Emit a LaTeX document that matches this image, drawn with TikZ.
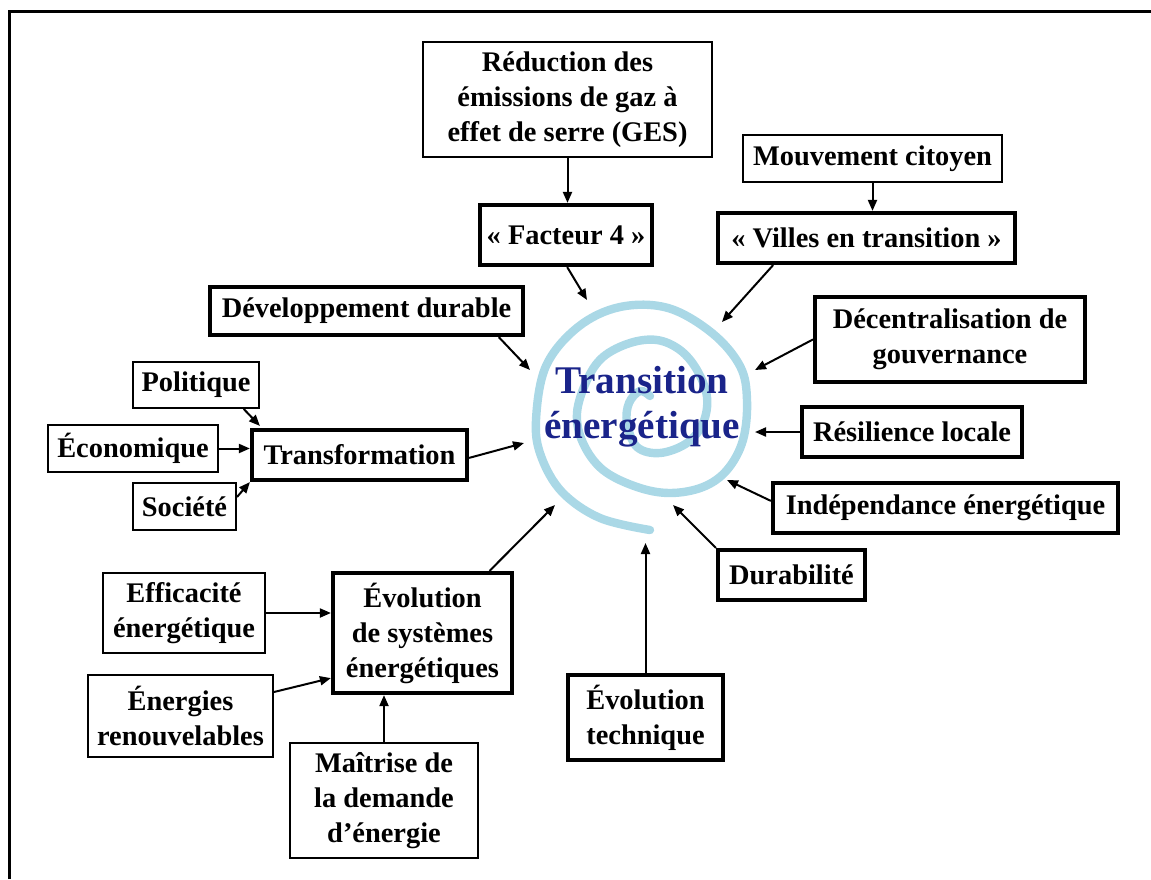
\documentclass[tikz,border=0pt]{standalone}
\usepackage{fontspec}
\setmainfont{Liberation Serif}
\usetikzlibrary{arrows.meta,calc}
\definecolor{spiralblue}{RGB}{170,216,230}
\definecolor{titleblue}{RGB}{26,36,138}
\begin{document}
\begin{tikzpicture}[x=0.5pt,y=-0.5pt,
  every node/.style={font=\fontsize{14.2}{17.5}\selectfont\bfseries, align=center, inner sep=0pt},
  thinbox/.style={draw, line width=1pt},
  thickbox/.style={draw, line width=2.1pt},
  sz/.style 2 args={minimum width=#1*0.5pt, minimum height=#2*0.5pt},
  arr/.style={line width=1pt, -{Triangle[length=5.5pt,width=4.5pt]}}]
\useasboundingbox (0,0) rectangle (1151,879);
% frame (left and top edges)
\draw[line width=1.5pt] (9,879) -- (9,11) -- (1151,11);
% spiral
\draw[spiralblue, line width=4.2pt, line cap=round] plot[smooth, tension=0.6] coordinates {
 (650,530) (600,518) (562,492) (541,456) (536,420) (546,366) (578,327) (620,307)
 (668,308) (712,333) (740,366) (747,400) (743,440) (727,470) (703,487) (670,493)
 (637,487) (603,470) (583,443) (577,413) (587,380) (603,357) (630,343) (657,340)
 (680,350) (697,370) (707,397) (703,423) (687,443) (660,453) (637,447) (627,423)
 (629,403) (640,391) (650,396)};
% centre title
\node[font=\fontsize{19.6}{22.5}\selectfont\bfseries, text=titleblue] (te) at (642,407) {Transition\\énergétique};
% boxes
\node[thinbox, sz={289}{115}] (red) at (567.5,99.5) {Réduction des\\émissions de gaz à\\effet de serre (GES)};
\node[thickbox, sz={172}{60}] (f4) at (566,235) {« Facteur 4 »};
\node[thinbox, sz={259}{47}] (mvt) at (872.5,158.5) {Mouvement citoyen};
\node[thickbox, sz={297}{50}] (vil) at (866.5,238) {« Villes en transition »};
\node[thickbox, sz={313}{48}] (dev) at (366.5,311) {Développement durable};
\node[thickbox, sz={270}{85}] (dec) at (950,339.5) {Décentralisation de\\gouvernance};
\node[thickbox, sz={220}{50}] (res) at (912,432) {Résilience locale};
\node[thickbox, sz={345}{50}] (ind) at (945.5,508) {Indépendance énergétique};
\node[thickbox, sz={147}{50}] (dur) at (791.5,575) {Durabilité};
\node[thickbox, sz={155}{85}] (evt) at (645.5,717.5) {Évolution\\technique};
\node[thickbox, sz={179}{120}] (evs) at (422.5,633) {Évolution\\de systèmes\\énergétiques};
\node[thinbox, sz={162}{80}] (eff) at (184,613) {Efficacité\\énergétique};
\node[thinbox, sz={185}{82}] (enr) at (180.5,716) {Énergies\\renouvelables};
\node[thinbox, sz={188}{115}] (mai) at (384,800.5) {Maîtrise de\\la demande\\d’énergie};
\node[thickbox, sz={215}{50}] (tra) at (359.5,455) {Transformation};
\node[thinbox, sz={126}{46}] (pol) at (196,385) {Politique};
\node[thinbox, sz={170}{47}] (eco) at (133,448.5) {Économique};
\node[thinbox, sz={103}{47}] (soc) at (184.5,506.5) {Société};
% arrow tips at the spiral
\coordinate (tF4) at (587,300);
\coordinate (tVil) at (722,322);
\coordinate (tDev) at (530,370);
\coordinate (tDec) at (755,370);
\coordinate (tRes) at (755,432);
\coordinate (tInd) at (727,480);
\coordinate (tDur) at (673,505);
\coordinate (tEvt) at (645.5,543);
\coordinate (tEvs) at (555,505);
\coordinate (tTra) at (524,443);
% connectors
\draw[arr] (red.south) -- (red.south |- f4.north);
\draw[arr] ($(f4.south west)!0.03!(f4.south east)+(84,0)$) -- (tF4);
\draw[arr] (mvt.south) -- (mvt.south |- vil.north);
\draw[arr] ($(vil.south west)!0.19!(vil.south east)$) -- (tVil);
\draw[arr] ($(dev.south west)!0.917!(dev.south east)$) -- (tDev);
\draw[arr] (dec.west) -- (tDec);
\draw[arr] (res.west) -- (tRes);
\draw[arr] ($(ind.north west)+(0,20)$) -- (tInd);
\draw[arr] (dur.north west) -- (tDur);
\draw[arr] (evt.north) -- (tEvt);
\draw[arr] ($(evs.north west)!0.866!(evs.north east)$) -- (tEvs);
\draw[arr] ($(tra.north east)+(0,30)$) -- (tTra);
\draw[arr] (eff.east) -- (eff.east -| evs.west);
\draw[arr] ($(enr.north east)+(0,18)$) -- ($(evs.south west)+(0,-17)$);
\draw[arr] (mai.north) -- (mai.north |- evs.south);
\draw[arr] ($(pol.south west)!0.873!(pol.south east)$) -- ($(tra.north west)+(10,-2)$);
\draw[arr] (eco.east) -- (eco.east -| tra.west);
\draw[arr] ($(soc.north east)+(0,15)$) -- (tra.south west);
\end{tikzpicture}
\end{document}
